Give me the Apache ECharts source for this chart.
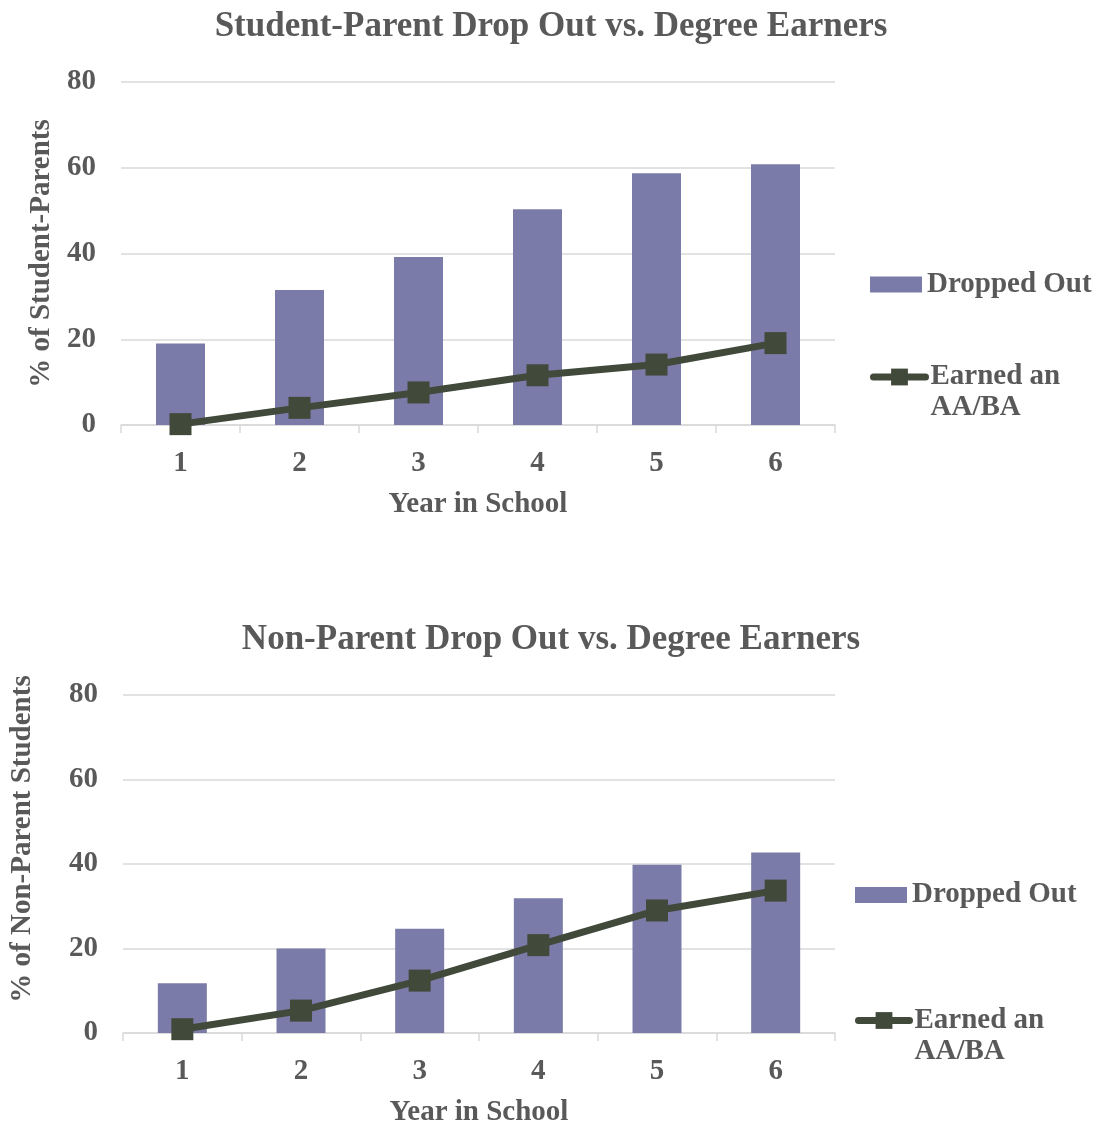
<!DOCTYPE html>
<html><head><meta charset="utf-8">
<script src="https://cdn.jsdelivr.net/npm/echarts@6/dist/echarts.min.js"></script>
<style>html,body{margin:0;padding:0;background:#fff}#c{width:1102px;height:1128px}</style>
</head><body><div id="c"></div>
<script>
const years = ['1', '2', '3', '4', '5', '6'];
const parentDropped = [19.0, 31.5, 39.2, 50.3, 58.7, 60.8];
const parentEarned = [0.2, 4.0, 7.6, 11.6, 14.1, 19.1];
const nonParentDropped = [11.8, 20.0, 24.7, 31.9, 39.8, 42.7];
const nonParentEarned = [0.9, 5.3, 12.4, 20.8, 29.0, 33.7];
const titles = ['Student-Parent Drop Out vs. Degree Earners', 'Non-Parent Drop Out vs. Degree Earners'];
const yNames = ['% of Student-Parents', '% of Non-Parent Students'];
const xName = 'Year in School';
const seriesNames = ['Dropped Out', 'Earned an AA/BA'];
const earnedLabelLines = ['Earned an', 'AA/BA'];

const FONT = '"Liberation Serif", "Times New Roman", serif';
const TXT = '#595959';
const BAR = '#7a7ba8';
const LINE = '#414a3a';
const GRIDC = '#d9d9d9';

function xAxisFor(i) {
  return {
    type: 'category', gridIndex: i, data: years,
    name: xName, nameLocation: 'middle', nameGap: 65,
    nameTextStyle: {color: TXT, fontFamily: FONT, fontWeight: 'bold', fontSize: 29},
    axisLine: {lineStyle: {color: GRIDC, width: 1.5}},
    axisTick: {show: true, alignWithLabel: false, length: 8, lineStyle: {color: GRIDC, width: 1.5}},
    axisLabel: {color: TXT, fontFamily: FONT, fontWeight: 'bold', fontSize: 29, margin: 24}
  };
}
function yAxisFor(i, gap, pad) {
  return {
    type: 'value', gridIndex: i, min: 0, max: 80, interval: 20,
    name: yNames[i], nameLocation: 'middle', nameGap: gap, nameRotate: 90,
    nameTextStyle: {color: TXT, fontFamily: FONT, fontWeight: 'bold', fontSize: 29, padding: pad},
    axisLine: {show: false}, axisTick: {show: false},
    splitLine: {lineStyle: {color: GRIDC, width: 1.5}},
    axisLabel: {color: TXT, fontFamily: FONT, fontWeight: 'bold', fontSize: 29, margin: 25, padding: [5, 0, 0, 0]}
  };
}
const legendText = {color: TXT, fontFamily: FONT, fontWeight: 'bold', fontSize: 29};
const earnedText = Object.assign({}, legendText, {lineHeight: 31});
const earnedFormatter = () => ' \n' + earnedLabelLines.join('\n');
const legendLine = {color: LINE, width: 7, cap: 'round'};

const option = {
  animation: false,
  backgroundColor: '#fff',
  title: [
    {text: titles[0], left: 'center', top: 9, padding: 0, textStyle: {color: TXT, fontFamily: FONT, fontWeight: 'bold', fontSize: 35}},
    {text: titles[1], left: 'center', top: 622, padding: 0, textStyle: {color: TXT, fontFamily: FONT, fontWeight: 'bold', fontSize: 35}}
  ],
  grid: [
    {left: 121, right: 267, top: 82, height: 343},
    {left: 121, right: 267, top: 695, height: 343}
  ],
  xAxis: [xAxisFor(0), xAxisFor(1)],
  yAxis: [yAxisFor(0, 60, 0), yAxisFor(1, 86, [0, 0, 0, 50])],
  legend: [
    {data: [{name: seriesNames[0], icon: 'rect'}], left: 870, top: 270, padding: 0, itemWidth: 52, itemHeight: 16, itemGap: 0, textStyle: legendText, selectedMode: false},
    {data: [seriesNames[1]], left: 870, top: 330.5, padding: 0, itemWidth: 52, itemHeight: 21, itemGap: 0,
      formatter: earnedFormatter, textStyle: earnedText, lineStyle: legendLine, selectedMode: false},
    {data: [{name: seriesNames[0], icon: 'rect'}], left: 855, top: 880.5, padding: 0, itemWidth: 52, itemHeight: 16, itemGap: 0, textStyle: legendText, selectedMode: false},
    {data: [seriesNames[1]], left: 855, top: 974, padding: 0, itemWidth: 51, itemHeight: 21, itemGap: 0,
      formatter: earnedFormatter, textStyle: earnedText, lineStyle: legendLine, selectedMode: false}
  ],
  series: [
    {name: seriesNames[0], type: 'bar', xAxisIndex: 0, yAxisIndex: 0, data: parentDropped, barWidth: 49, itemStyle: {color: BAR}},
    {name: seriesNames[1], type: 'line', xAxisIndex: 0, yAxisIndex: 0, data: parentEarned, symbol: 'rect', symbolSize: 22,
      lineStyle: {color: LINE, width: 7, cap: 'round'}, itemStyle: {color: LINE}},
    {name: seriesNames[0], type: 'bar', xAxisIndex: 1, yAxisIndex: 1, data: nonParentDropped, barWidth: 49, itemStyle: {color: BAR}},
    {name: seriesNames[1], type: 'line', xAxisIndex: 1, yAxisIndex: 1, data: nonParentEarned, symbol: 'rect', symbolSize: 22,
      lineStyle: {color: LINE, width: 7, cap: 'round'}, itemStyle: {color: LINE}}
  ]
};
const chart = echarts.init(document.getElementById('c'), null, {renderer: 'canvas'});
chart.setOption(option);
</script>
</body></html>
